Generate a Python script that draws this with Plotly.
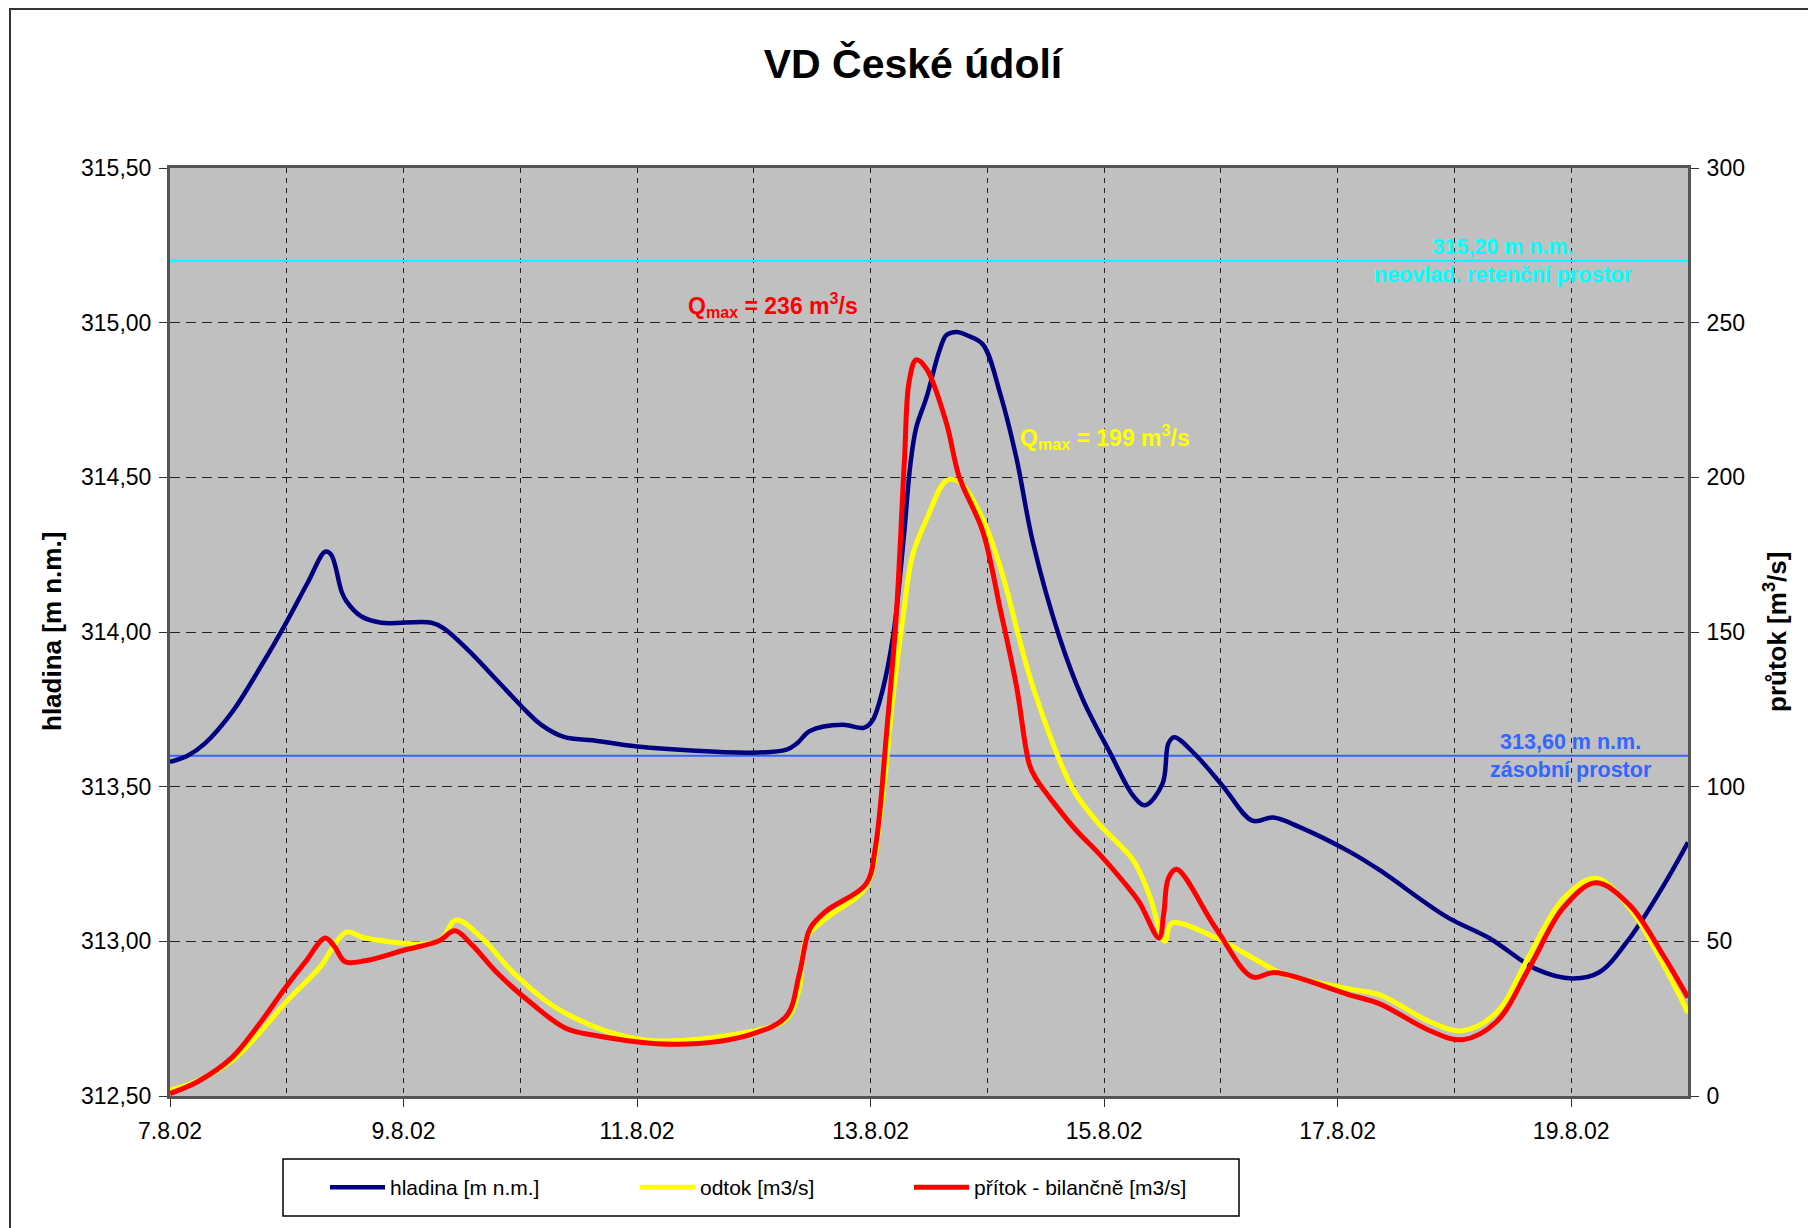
import numpy as np
import pandas as pd
import plotly.graph_objects as go

# data: time in days since 7.8.2002 00:00
hladina_t = [0.00, 0.15, 0.30, 0.53, 0.78, 0.98, 1.18, 1.33, 1.38, 1.47,
             1.51, 1.64, 1.81, 2.24, 2.35, 2.53, 2.81, 3.01, 3.18, 3.38,
             3.62, 4.00, 4.99, 5.28, 5.37, 5.48, 5.76, 5.94, 6.01, 6.08,
             6.19, 6.28, 6.34, 6.39, 6.48, 6.59, 6.65, 6.74, 6.82, 6.96, 7.11,
             7.25, 7.39, 7.62, 7.82, 8.05, 8.25, 8.35, 8.50, 8.55, 8.60,
             8.79, 9.02, 9.27, 9.45, 9.67, 10.10, 10.36, 10.93, 11.30, 11.70,
             12.01, 12.24, 12.50, 12.79, 13.00]
hladina = [313.58, 313.60, 313.64, 313.74, 313.89, 314.02, 314.16, 314.26, 314.25, 314.13,
           314.10, 314.05, 314.03, 314.03, 314.01, 313.95, 313.84, 313.76, 313.70, 313.66,
           313.65, 313.63, 313.61, 313.62, 313.64, 313.68, 313.70, 313.69, 313.71, 313.78,
           313.98, 314.29, 314.54, 314.66, 314.76, 314.91, 314.96, 314.97, 314.96, 314.93, 314.77,
           314.56, 314.29, 313.98, 313.78, 313.61, 313.47, 313.44, 313.51, 313.64, 313.66,
           313.60, 313.50, 313.39, 313.40, 313.37, 313.29, 313.23, 313.08, 313.01, 312.91,
           312.88, 312.90, 313.01, 313.18, 313.32]

odtok_t = [0.00, 0.24, 0.53, 0.76, 0.98, 1.30, 1.38, 1.51, 1.67, 2.30,
           2.45, 2.67, 2.95, 3.38, 4.05, 4.99, 5.28, 5.39, 5.45, 5.62,
           5.96, 6.08, 6.19, 6.28, 6.36, 6.48, 6.65, 6.76, 6.96, 7.11,
           7.39, 7.73, 7.96, 8.25, 8.39, 8.52, 8.58, 8.96, 9.33, 9.53,
           10.10, 10.36, 10.79, 11.07, 11.36, 11.64, 11.93, 12.21, 12.50, 12.79,
           13.00]
odtok = [1.8, 5.0, 11.4, 20.1, 29.8, 42.4, 47.2, 53.0, 51.1, 50.1,
         56.9, 51.1, 39.5, 26.9, 18.2, 21.0, 24.9, 35.0, 51.1, 57.5,
         67.6, 89.8, 128.4, 155.5, 174.9, 186.5, 199.0, 198.5, 186.5, 171.0,
         132.3, 99.4, 87.8, 76.2, 64.6, 50.0, 55.9, 51.1, 43.4, 39.5,
         34.6, 32.7, 24.0, 21.1, 27.0, 45.3, 63.7, 70.4, 60.7, 42.4,
         26.9]

pritok_t = [0.00, 0.24, 0.53, 0.76, 0.98, 1.16, 1.33, 1.41, 1.50, 1.67,
            2.01, 2.30, 2.44, 2.58, 2.81, 3.10, 3.38, 3.62, 4.34, 4.99,
            5.28, 5.39, 5.48, 5.62, 5.96, 6.04, 6.14, 6.22, 6.29, 6.33,
            6.39, 6.48, 6.65, 6.76, 6.96, 7.11, 7.25, 7.36, 7.42, 7.59,
            7.76, 7.96, 8.16, 8.30, 8.47, 8.51, 8.55, 8.62, 8.96, 9.27,
            9.46, 10.10, 10.36, 10.79, 11.07, 11.36, 11.64, 11.93, 12.21, 12.50,
            12.79, 13.00]
pritok = [0.8, 4.7, 12.4, 23.0, 34.6, 43.4, 51.1, 48.2, 43.4, 43.7,
          47.2, 50.1, 53.4, 49.1, 39.5, 29.8, 22.1, 19.7, 16.7, 20.1,
          25.9, 39.5, 54.0, 59.8, 68.5, 80.1, 118.8, 155.5, 205.8, 231.0,
          238.0, 235.0, 217.4, 200.0, 182.6, 157.4, 132.3, 107.1, 102.4, 93.7,
          85.9, 78.2, 69.5, 62.7, 51.1, 58.8, 70.4, 73.3, 54.0, 38.5,
          39.9, 32.7, 29.8, 21.1, 18.2, 24.0, 41.4, 60.7, 68.9, 61.7,
          45.3, 31.8]

# limit levels
limit_t = [0.0, 13.0]
retencni = 315.20
zasobni = 313.60

BASE = pd.Timestamp("2002-08-07")


def to_time(days):
    return BASE + pd.to_timedelta(np.array(days), unit="D")


FONT = "Liberation Sans, Arial, sans-serif"
SMOOTH = 1.0

fig = go.Figure()

fig.add_trace(go.Scatter(x=to_time(limit_t), y=[retencni] * 2, mode="lines",
                         line=dict(color="#00FFFF", width=2.5), showlegend=False, hoverinfo="skip"))
fig.add_trace(go.Scatter(x=to_time(limit_t), y=[zasobni] * 2, mode="lines",
                         line=dict(color="#3366FF", width=2), showlegend=False, hoverinfo="skip"))

fig.add_trace(go.Scatter(x=to_time(hladina_t), y=hladina, name="hladina [m n.m.]", mode="lines",
                         legend="legend",
                         line=dict(color="#000080", width=4.5, shape="spline", smoothing=SMOOTH)))
fig.add_trace(go.Scatter(x=to_time(odtok_t), y=odtok, name="odtok [m3/s]", mode="lines", yaxis="y2",
                         legend="legend2",
                         line=dict(color="#FFFF00", width=5, shape="spline", smoothing=SMOOTH)))
fig.add_trace(go.Scatter(x=to_time(pritok_t), y=pritok, name="přítok - bilančně [m3/s]", mode="lines",
                         yaxis="y2", legend="legend3",
                         line=dict(color="#FF0000", width=5, shape="spline", smoothing=SMOOTH)))

leg_y = (1096 - 1187.5) / 928
leg_common = dict(orientation="h", y=leg_y, xanchor="left", yanchor="middle",
                  bgcolor="rgba(0,0,0,0)", font=dict(size=21, family=FONT), itemwidth=55)

fig.update_layout(
    width=1816, height=1228,
    margin=dict(l=162, r=136, t=160, b=140),
    paper_bgcolor="white",
    plot_bgcolor="#C0C0C0",
    separators=", ",
    font=dict(family=FONT, size=23, color="black"),
    title=dict(text="<b>VD České údolí</b>", font=dict(size=41, family=FONT),
               x=(913 - 8) / 1816, xref="container", y=1 - (64 - 8) / 1228,
               yanchor="middle", xanchor="center"),
    xaxis=dict(
        type="date",
        range=[BASE, BASE + pd.Timedelta(days=13)],
        tick0=BASE, dtick=2 * 86400000,
        tickformat="%-d.%-m.%y",
        ticks="outside", ticklen=8, tickcolor="#333",
        ticklabelstandoff=4,
        showgrid=True, gridcolor="#222", griddash="5px,5px", gridwidth=1,
        minor=dict(dtick=86400000, tick0=BASE, showgrid=True, gridcolor="#222",
                   griddash="5px,5px", gridwidth=1),
        showline=True, linecolor="#555", linewidth=3, mirror=True,
        zeroline=False,
    ),
    yaxis=dict(
        range=[312.5, 315.5], dtick=0.5, tickformat=".2f",
        ticks="outside", ticklen=8, tickcolor="#333", ticklabelstandoff=3,
        showgrid=True, gridcolor="#222", griddash="10px,6px", gridwidth=1,
        showline=True, linecolor="#555", linewidth=3,
        zeroline=False,
    ),
    yaxis2=dict(
        range=[0, 300], dtick=50, overlaying="y", side="right",
        ticks="outside", ticklen=8, tickcolor="#333", ticklabelstandoff=3,
        showgrid=False, showline=True, linecolor="#555", linewidth=3,
        zeroline=False,
    ),
    legend=dict(x=(325 - 170) / 1518, **leg_common),
    legend2=dict(x=(635 - 170) / 1518, **leg_common),
    legend3=dict(x=(909 - 170) / 1518, **leg_common),
    showlegend=True,
)

# legend frame and outer chart frame
fig.add_shape(type="rect", xref="paper", yref="paper",
              x0=(283 - 170) / 1518, x1=(1239 - 170) / 1518,
              y0=(1096 - 1159) / 928, y1=(1096 - 1216) / 928,
              line=dict(color="black", width=1.5), fillcolor="white", layer="below")
fig.add_shape(type="rect", xref="paper", yref="paper",
              x0=(10 - 170) / 1518, x1=(1840 - 170) / 1518,
              y0=(1096 - 9) / 928, y1=(1096 - 1250) / 928,
              line=dict(color="#333", width=2), layer="below")

# axis titles
fig.add_annotation(text="<b>hladina [m n.m.]</b>", xref="paper", yref="paper",
                   x=(52 - 170) / 1518, y=0.5, textangle=-90, showarrow=False,
                   xanchor="center", yanchor="middle",
                   font=dict(size=26, family=FONT))
fig.add_annotation(text="<b>průtok [m<sup>3</sup>/s]</b>", xref="paper", yref="paper",
                   x=(1775 - 170) / 1518, y=0.5, textangle=-90, showarrow=False,
                   xanchor="center", yanchor="middle",
                   font=dict(size=26, family=FONT))

# labels
fig.add_annotation(text="<b>Q<sub>max</sub> = 236 m<sup>3</sup>/s</b>", xref="paper", yref="paper",
                   x=(773 - 170) / 1518, y=(1096 - 305) / 928, showarrow=False,
                   xanchor="center", yanchor="middle",
                   font=dict(size=23, color="#FF0000", family=FONT))
fig.add_annotation(text="<b>Q<sub>max</sub> = 199 m<sup>3</sup>/s</b>", xref="paper", yref="paper",
                   x=(1105 - 170) / 1518, y=(1096 - 437) / 928, showarrow=False,
                   xanchor="center", yanchor="middle",
                   font=dict(size=23, color="#FFFF00", family=FONT))
fig.add_annotation(text="<b>315,20 m n.m.<br>neovlad. retenční prostor</b>", xref="paper", yref="y",
                   x=(1503 - 170) / 1518, y=retencni, xanchor="center", yanchor="middle",
                   showarrow=False, font=dict(size=21.5, color="#00FFFF", family=FONT))
fig.add_annotation(text="<b>313,60 m n.m.<br>zásobní prostor</b>", xref="paper", yref="y",
                   x=(1571 - 170) / 1518, y=zasobni, xanchor="center", yanchor="middle",
                   showarrow=False, font=dict(size=21.5, color="#3366FF", family=FONT))

fig.write_html("out.html")
